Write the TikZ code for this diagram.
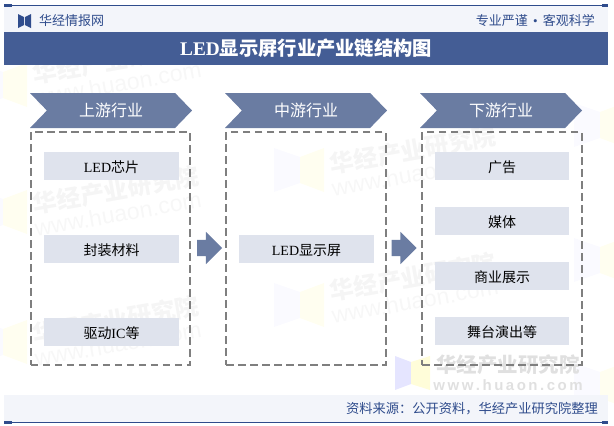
\documentclass[tikz,border=0pt]{standalone}
\usepackage{fontspec}
\setmainfont{Noto Sans CJK SC}
\newfontfamily\latinfont{Liberation Serif}
\newfontfamily\sitefont{Liberation Sans}
\usetikzlibrary{shapes.symbols, shapes.arrows}

\definecolor{bandblue}{HTML}{445D95}
\definecolor{linkblue}{HTML}{6A7CA2}
\definecolor{paleblue}{HTML}{F3F5FA}
\definecolor{itemblue}{HTML}{DFE3ED}
\definecolor{inkblue}{HTML}{2F4C8C}
\definecolor{dashgray}{HTML}{7F7F7F}

\tikzset{
  stagehead/.style={signal, signal to=east, signal from=west, signal pointer angle=92,
    fill=linkblue, text=white, inner sep=0pt, minimum width=162pt, minimum height=35pt,
    text height=14pt, text depth=1.2pt, font=\fontsize{16}{18}\selectfont},
  stagebox/.style={draw=dashgray, line width=1.8pt, dash pattern=on 7.5pt off 4.5pt,
    minimum width=159.5pt, minimum height=233pt, inner sep=0pt},
  item/.style={fill=itemblue, inner sep=0pt, minimum width=134.5pt, minimum height=28pt,
    text height=13pt, text depth=1pt, font=\fontsize{14}{16}\selectfont},
  nextarrow/.style={single arrow, fill=linkblue, inner sep=0pt, minimum height=25pt,
    minimum width=32pt, single arrow head extend=8pt, single arrow tip angle=90},
  band/.style={inner sep=0pt, minimum width=604pt},
  smalltext/.style={text=inkblue, inner sep=0pt, font=\fontsize{13}{15}\selectfont},
  wmname/.style={text=black!4, rotate=10, inner sep=0pt, font=\fontsize{24}{26}\selectfont\bfseries},
  wmsite/.style={text=black!3, rotate=10, inner sep=0pt, font=\fontsize{23}{26}\selectfont},
  wmpale/.style={fill=blue!2},
  wmwarm/.style={fill=yellow!6},
}

\begin{document}
\begin{tikzpicture}[x=1pt, y=-1pt]
  \useasboundingbox (0, 0) rectangle (614, 426);

  % faint marks behind everything
  \foreach \lx/\ly in {3/85, 3/212, 3/342, 300/170, 300/305, 600/125, 600/260, 600/385}{
    \fill[wmpale] (\lx-26, \ly-22) -- (\lx, \ly-13) -- (\lx, \ly+13) -- (\lx-26, \ly+22) -- cycle;
    \fill[wmwarm] (\lx+24, \ly-22) -- (\lx, \ly-13) -- (\lx, \ly+13) -- (\lx+24, \ly+22) -- cycle;
  }
  \foreach \wx/\wy/\wn in {116/60/a, 116/190/b, 116/320/c, 413/150/d, 413/277/e}{
    \node[wmname] (name\wn) at (\wx, \wy) {华经产业研究院};
    \node[wmsite] (site\wn) at (\wx+2, \wy+24) {\sitefont www.huaon.com};
  }
  \node[wmname, rotate=-10, text=black!12, font=\fontsize{20.5}{22}\selectfont\bfseries] (foot) at (508, 365) {华经产业研究院};
  \node[wmname, rotate=-10, text=black!12, font=\fontsize{15}{17}\selectfont\bfseries] (footsite) at (508, 385)
    {\sitefont w\,w\,w\,.\,h\,u\,a\,o\,n\,.\,c\,o\,m};
  \fill[blue!10] (395, 356) -- (411, 362) -- (411, 384) -- (395, 390) -- cycle;
  \fill[yellow!15] (430, 356) -- (411, 362) -- (411, 384) -- (430, 390) -- cycle;

  % header
  \node[band, fill=paleblue, minimum height=27pt, anchor=north west] (head) at (4, 5) {};
  \node[band, fill=bandblue, minimum height=33pt, text=white, anchor=north west,
    text height=16pt, text depth=1.6pt, font=\fontsize{19.3}{22}\selectfont\bfseries] (title) at (4, 32)
    {{\latinfont LED}显示屏行业产业链结构图};
  \draw[inkblue, line width=1pt] (4, 5.5) -- (608, 5.5);
  \fill[inkblue] (4, 4) rectangle (12, 7);
  \fill[inkblue] (602, 4) rectangle (608, 7);
  \fill[inkblue] (18, 14) -- (24, 17) -- (24, 25) -- (18, 28) -- cycle;
  \fill[inkblue] (31, 14) -- (25, 17) -- (25, 25) -- (31, 28) -- cycle;
  \node[smalltext, anchor=west] (site) at (39, 21) {华经情报网};
  \node[smalltext, anchor=east] (motto) at (595, 21)
    {专业严谨\makebox[15pt]{\latinfont\textbullet}客观科学};

  % stages
  \node[stagehead] (up) at (111, 110.5) {上游行业};
  \node[stagehead] (mid) at (306, 110.5) {中游行业};
  \node[stagehead] (down) at (501, 110.5) {下游行业};

  \node[stagebox] (upbox) at (110.5, 248.5) {};
  \node[stagebox] (midbox) at (306, 248.5) {};
  \node[stagebox] (downbox) at (502, 248.5) {};

  \node[item] (chip) at (111.5, 166) {{\latinfont LED}芯片};
  \node[item] (pack) at (111.5, 249) {封装材料};
  \node[item] (drive) at (111.5, 332) {驱动{\latinfont IC}等};

  \node[item] (screen) at (306.5, 249) {{\latinfont LED}显示屏};

  \node[item] (ads) at (502, 166) {广告};
  \node[item] (media) at (502, 221) {媒体};
  \node[item] (show) at (502, 276) {商业展示};
  \node[item] (stage) at (502, 331) {舞台演出等};

  \node[nextarrow] (toMid) at (205.5, 248) {\rule{0pt}{16pt}};
  \node[nextarrow] (toDown) at (400, 248) {\rule{0pt}{16pt}};

  % footer
  \node[band, fill=paleblue, minimum height=27pt, anchor=north west] (tail) at (4, 395) {};
  \node[smalltext, anchor=east, font=\fontsize{13.25}{15}\selectfont] (source) at (598, 409) {资料来源：公开资料，华经产业研究院整理};
  \draw[inkblue, line width=1pt] (4, 422) -- (608, 422);
  \fill[inkblue] (4, 421) rectangle (12, 424);
  \fill[inkblue] (602, 421) rectangle (608, 424);
\end{tikzpicture}
\end{document}
